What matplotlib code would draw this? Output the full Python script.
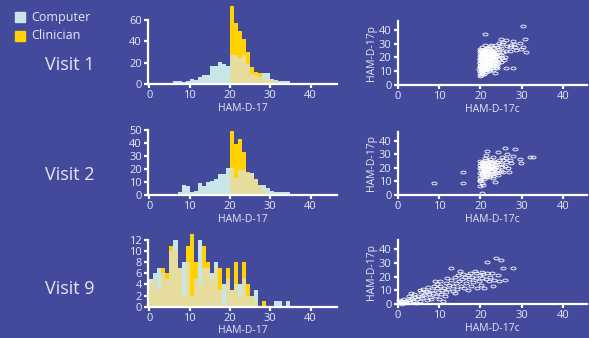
import matplotlib
matplotlib.use("Agg")
import matplotlib.pyplot as plt
import numpy as np
from matplotlib.patches import Rectangle
from matplotlib.path import Path

plt.rcParams['font.family'] = ['Open Sans', 'DejaVu Sans']

# histogram counts per 1-point bin (left edge = index)
v1_computer = [0, 0, 0, 0, 0, 1, 3, 3, 2, 3, 5, 4, 7, 8, 8, 17, 17, 21, 19, 17,
               27, 27, 24, 27, 19, 9, 8, 7, 10, 10, 5, 4, 3, 3, 3, 1, 1, 1, 1, 0,
               1, 0, 0, 1]
v1_clinician = [0, 0, 0, 0, 0, 0, 0, 0, 0, 0, 0, 1, 0, 0, 0, 0, 0, 0, 0, 1,
                73, 57, 50, 42, 30, 16, 11, 10, 5, 4, 5, 2, 1]

v2_computer = [0, 1, 1, 0, 0, 1, 1, 2, 8, 7, 2, 3, 9, 7, 10, 11, 12, 16, 16, 21,
               21, 13, 19, 19, 17, 17, 12, 8, 8, 5, 3, 2, 2, 2, 2, 1, 1, 1, 1, 1]
v2_clinician = [0, 0, 0, 1, 0, 0, 0, 0, 0, 0, 0, 0, 0, 0, 0, 0, 0, 0, 1, 1,
                49, 39, 43, 33, 18, 15, 12, 8, 3, 1, 1]

v9_computer = [5, 6, 7, 6, 5, 10, 12, 7, 8, 8, 2, 5, 12, 7, 7, 6, 8, 3, 4, 5,
               3, 4, 4, 5, 2, 2, 3, 0, 0, 0, 0, 1, 1, 0, 1]
v9_clinician = [4, 5, 3, 7, 6, 11, 10, 7, 2, 11, 13, 8, 4, 11, 8, 5, 7, 7, 0, 7,
                3, 8, 2, 8, 4, 2, 1, 0, 1]

# scatter points (clinician HAM-D-17c, patient HAM-D-17p)
v1_points = [
    (19.8, 6.5), (20.2, 7.2), (20.5, 8.0), (19.9, 8.8), (20.3, 9.5), (20.0, 10.2), (20.6, 10.8),
    (19.7, 11.5), (20.2, 12.1), (20.4, 12.9), (19.9, 13.6), (20.1, 14.3), (20.5, 15.0), (19.8, 15.8),
    (20.3, 16.5), (20.0, 17.2), (20.6, 17.9), (19.9, 18.6), (20.2, 19.3), (20.4, 20.1), (19.8, 20.8),
    (20.1, 21.6), (20.5, 22.3), (19.9, 23.0), (20.3, 23.8), (20.0, 24.6), (20.2, 25.5), (19.9, 26.4),
    (20.3, 27.9), (20.0, 19.0), (20.6, 13.2), (20.4, 9.0), (19.9, 16.1), (20.2, 21.1),
    (20.7, 11.9), (20.5, 14.0), (20.8, 16.0), (20.6, 18.8), (20.7, 21.2), (20.5, 23.1), (20.8, 24.9),
    (20.1, 11.0), (20.0, 13.0), (20.3, 15.4), (20.1, 17.9), (20.3, 22.7), (20.1, 25.0),
    (21.0, 8.2), (21.3, 9.6), (20.9, 10.9), (21.4, 11.7), (21.1, 12.6), (20.8, 13.4), (21.2, 14.2),
    (21.5, 15.1), (21.0, 15.9), (21.3, 16.8), (20.9, 17.5), (21.4, 18.3), (21.1, 19.2), (20.8, 20.0),
    (21.2, 20.9), (21.5, 21.7), (21.0, 22.6), (21.3, 23.4), (20.9, 24.3), (21.4, 25.1), (21.1, 26.0),
    (21.5, 27.2), (21.1, 29.1), (21.1, 36.8), (21.6, 10.9),
    (21.7, 13.0), (21.6, 14.8), (21.8, 16.9), (21.7, 18.9), (21.6, 20.4), (21.8, 22.8), (21.7, 24.6),
    (21.2, 13.9), (21.1, 16.3), (21.2, 18.0), (21.0, 20.4), (21.2, 23.9), (21.0, 25.7),
    (22.0, 10.4), (22.3, 11.8), (21.9, 12.9), (22.4, 13.8), (22.1, 14.7), (21.8, 15.6), (22.2, 16.4),
    (22.5, 17.3), (22.0, 18.1), (22.3, 19.0), (21.9, 19.9), (22.4, 20.7), (22.1, 21.6), (21.8, 22.4),
    (22.2, 23.3), (22.5, 24.1), (22.0, 25.0), (22.3, 26.0), (21.9, 27.1), (22.4, 28.2), (22.6, 29.2),
    (22.7, 14.3), (22.6, 16.0), (22.8, 18.6), (22.7, 20.2), (22.6, 22.0), (22.8, 23.8), (22.2, 17.7),
    (22.1, 20.1), (22.3, 22.9), (22.0, 15.2),
    (23.1, 10.9), (23.5, 9.0), (22.9, 12.5), (23.3, 13.5), (23.0, 14.6), (23.4, 15.7), (22.8, 16.8),
    (23.2, 17.9), (23.5, 19.0), (23.0, 20.1), (23.3, 21.2), (22.9, 22.3), (23.4, 23.4), (23.1, 24.5),
    (22.8, 25.6), (23.2, 26.8), (23.9, 29.1), (23.9, 13.3), (23.6, 18.2),
    (23.7, 15.0), (23.6, 20.9), (23.8, 24.0), (23.2, 19.5), (23.1, 22.8),
    (24.0, 14.0), (24.3, 15.8), (23.9, 17.5), (24.4, 19.2), (24.1, 20.9), (23.8, 22.6), (24.2, 24.3),
    (24.5, 26.0), (24.0, 27.3), (24.4, 30.5), (24.1, 12.2), (24.6, 21.5),
    (25.1, 26.7), (25.1, 33.2), (25.0, 16.5), (25.3, 19.5), (24.9, 22.0), (25.4, 24.0), (25.2, 29.5),
    (25.5, 31.5), (26.3, 32.7), (26.3, 12.1), (26.0, 20.0), (26.2, 25.0), (26.5, 28.5), (25.8, 18.0),
    (27.1, 27.9), (27.9, 32.2), (27.8, 12.1), (27.2, 24.5), (28.7, 25.5), (28.2, 30.0), (29.5, 30.3),
    (30.4, 27.9), (30.8, 33.2), (31.0, 24.2), (30.3, 42.9), (29.8, 26.0), (27.5, 29.0), (28.5, 27.5),
]

v2_points = [
    (8.8, 8.6), (15.7, 8.6), (15.9, 16.7), (20.5, 1.7), (19.9, 11.0), (20.7, 7.4), (23.5, 9.8),
    (19.8, 10.5), (20.2, 12.0), (20.0, 13.4), (20.4, 14.7), (19.9, 16.0), (20.3, 17.3), (20.1, 18.6),
    (19.8, 19.8), (20.4, 21.0), (20.0, 22.2), (20.2, 23.5), (19.9, 24.8), (20.3, 15.3), (20.1, 20.4),
    (20.5, 9.2), (20.0, 6.3),
    (20.7, 13.0), (20.6, 15.9), (20.8, 18.3), (20.6, 20.0), (20.7, 22.6), (20.5, 24.0),
    (21.0, 11.6), (21.3, 12.9), (20.9, 14.2), (21.4, 15.5), (21.1, 16.8), (20.8, 18.0), (21.2, 19.3),
    (21.5, 20.6), (21.0, 21.9), (21.3, 23.2), (20.9, 24.5), (21.4, 25.8), (21.3, 29.5), (21.5, 32.7),
    (21.1, 27.0),
    (21.7, 14.0), (21.6, 17.0), (21.8, 19.8), (21.7, 22.7), (21.6, 24.4), (21.2, 17.8), (21.1, 21.0),
    (22.0, 13.0), (22.3, 14.5), (21.9, 16.0), (22.4, 17.5), (22.1, 19.0), (21.8, 20.5), (22.2, 22.0),
    (22.5, 23.5), (22.0, 25.0), (22.3, 26.5), (21.9, 18.2), (22.4, 21.3),
    (22.7, 15.3), (22.6, 18.8), (22.8, 21.0), (22.7, 24.2), (22.2, 20.2),
    (23.0, 14.2), (23.3, 16.0), (22.9, 17.8), (23.4, 19.6), (23.1, 21.4), (22.8, 23.2), (23.2, 25.0),
    (23.1, 27.8), (23.5, 20.5), (23.0, 12.8),
    (23.7, 17.2), (23.6, 22.0), (23.8, 24.0), (23.2, 18.8),
    (24.0, 16.5), (24.3, 18.5), (23.9, 20.5), (24.4, 22.5), (24.1, 24.5), (24.3, 31.9), (24.5, 26.0),
    (24.2, 14.8),
    (25.0, 18.0), (25.5, 17.2), (25.3, 20.5), (24.9, 23.0), (25.4, 25.5), (25.2, 28.0),
    (25.9, 34.4), (26.3, 24.6), (26.0, 21.0), (26.2, 27.5), (26.5, 30.0),
    (27.0, 16.7), (27.5, 23.3), (27.2, 26.0), (28.3, 33.7), (28.0, 29.0), (29.5, 26.3), (29.9, 23.3),
    (32.0, 27.8), (32.8, 27.8), (26.8, 20.0),
]

v9_points = [
    (0.2, 0.5), (0.5, 1.5), (1.0, 0.3), (1.2, 2.5), (0.3, 3.2), (1.8, 1.2), (2.2, 0.6), (2.5, 3.0),
    (3.0, 1.8), (3.3, 4.5), (2.8, 6.0), (1.5, 4.0), (3.8, 2.5), (4.2, 5.2), (4.6, 3.4), (4.0, 7.5),
    (5.0, 6.0), (5.3, 2.5), (5.6, 8.5), (5.9, 4.2), (6.2, 11.0), (6.4, 6.8), (6.8, 9.3), (7.0, 3.0),
    (7.3, 12.3), (7.6, 7.0), (7.8, 5.0), (8.2, 10.0), (8.5, 8.0), (8.8, 13.0), (9.0, 16.7), (9.2, 6.0),
    (9.5, 11.5), (9.8, 9.0), (10.0, 4.0), (10.2, 16.7), (10.3, 13.0), (10.5, 7.5), (10.8, 10.5),
    (11.0, 2.5), (11.3, 12.0), (11.6, 15.0), (11.8, 8.5), (12.2, 11.0), (12.5, 14.0), (12.8, 26.0),
    (13.0, 17.5), (13.3, 9.5), (13.5, 13.0), (13.8, 19.5), (14.0, 15.5), (14.3, 11.0), (14.6, 21.0),
    (14.9, 16.5), (15.2, 13.5), (15.5, 18.0), (15.8, 22.0), (16.0, 11.5), (16.3, 19.5), (16.6, 15.0),
    (16.9, 21.5), (17.2, 18.0), (17.5, 22.9), (17.8, 13.5), (18.0, 20.0), (18.3, 16.0), (18.6, 24.0),
    (18.9, 19.0), (19.2, 11.5), (19.6, 17.0), (19.9, 21.0), (20.2, 14.0), (20.4, 23.5), (20.7, 21.6),
    (21.0, 12.0), (21.3, 18.0), (21.7, 31.0), (21.6, 22.5), (22.0, 16.5), (22.4, 20.0), (22.8, 23.0),
    (23.1, 13.0), (23.4, 17.5), (23.8, 33.9), (24.2, 21.5), (24.5, 17.0), (25.1, 32.2), (25.5, 26.0),
    (25.9, 17.2), (27.9, 26.0),
    (0.8, 2.0), (2.0, 2.2), (3.5, 3.5), (4.5, 1.0), (6.0, 5.5), (5.5, 10.0), (8.0, 3.5), (9.5, 14.5),
    (11.5, 6.0), (12.0, 19.0), (7.2, 8.5), (3.2, 8.0), (13.9, 8.0), (15.0, 24.0), (17.0, 10.0),
    (19.0, 23.0), (20.5, 19.0),
]

visit_labels = ["Visit 1", "Visit 2", "Visit 9"]
hist_yticks = [[0, 20, 40, 60], [0, 10, 20, 30, 40, 50], [0, 2, 4, 6, 8, 10, 12]]
hist_ylims = [60, 50, 12]
scatter_ticks = [0, 10, 20, 30, 40]

BG = "#434a9c"
TXT = "#e6e6f2"
CYAN = "#c8e6e8"
YELLOW = "#ffd200"
MIX = "#e6dc9e"

W, H = 589, 338
fig = plt.figure(figsize=(W / 100, H / 100), dpi=100, facecolor=BG)


def px_axes(left, top, right, bottom):
    return fig.add_axes([left / W, 1 - bottom / H, (right - left) / W, (bottom - top) / H])


def style(ax):
    ax.set_facecolor("none")
    for s in ["top", "right"]:
        ax.spines[s].set_visible(False)
    for s in ["left", "bottom"]:
        ax.spines[s].set_color("white")
        ax.spines[s].set_linewidth(1.6)
    ax.tick_params(colors="white", labelcolor=TXT, labelsize=8, length=3, width=1.6, pad=1.5)


# ellipse marker
t = np.linspace(0, 2 * np.pi, 40)
ellipse = Path(np.column_stack([np.cos(t), 0.55 * np.sin(t)]), closed=True)

hist_rows = [(20, 84), (130, 195), (240, 306.7)]
scatter_rows = [(20.7, 85, 46.7), (131.7, 195, 46.6), (239.7, 304, 47)]
hists = [(v1_computer, v1_clinician), (v2_computer, v2_clinician), (v9_computer, v9_clinician)]
points = [v1_points, v2_points, v9_points]

for i in range(3):
    top, bottom = hist_rows[i]
    ax = px_axes(148.1, top, 336.7, bottom)
    style(ax)
    comp, clin = hists[i]
    n = max(len(comp), len(clin))
    comp = np.array(comp + [0] * (n - len(comp)))
    clin = np.array(clin + [0] * (n - len(clin)))
    edges = np.arange(n)
    ax.bar(edges, comp, width=1, align="edge", color=CYAN, clip_on=False, zorder=1)
    ax.bar(edges, clin, width=1, align="edge", color=YELLOW, clip_on=False, zorder=1)
    ax.bar(edges, np.minimum(comp, clin), width=1, align="edge", color=MIX,
           clip_on=False, zorder=2)
    ax.set_xlim(-0.3, 46.5)
    ax.set_ylim(0, hist_ylims[i])
    ax.set_xticks([0, 10, 20, 30, 40])
    ax.set_yticks(hist_yticks[i])
    ax.set_xlabel("HAM-D-17", color=TXT, fontsize=7.5, labelpad=1)

    fig.text(70 / W, 1 - [65.5, 174.7, 289][i] / H, visit_labels[i], color=TXT,
             fontsize=13, ha="center", va="center")

    top, bottom, ymax = scatter_rows[i]
    ax = px_axes(397.7, top, 587, bottom)
    style(ax)
    c = [p[0] for p in points[i]]
    p = [p[1] for p in points[i]]
    ax.plot(c, p, linestyle="none", marker=ellipse, markersize=3.7,
            markerfacecolor="none", markeredgecolor="white", markeredgewidth=0.6,
            clip_on=False)
    ax.set_xlim(0, 45.8)
    ax.set_ylim(0, ymax)
    ax.set_xticks(scatter_ticks)
    ax.set_yticks(scatter_ticks)
    ax.set_xlabel("HAM-D-17c", color=TXT, fontsize=7.5, labelpad=1)
    ax.set_ylabel("HAM-D-17p", color=TXT, fontsize=7.5, labelpad=1)

# legend
for j, (lab, col) in enumerate([("Computer", CYAN), ("Clinician", YELLOW)]):
    y0 = [12.3, 31][j]
    fig.add_artist(Rectangle((15 / W, 1 - (y0 + 9.5) / H), 9.5 / W, 9.5 / H,
                             transform=fig.transFigure, color=col))
    fig.text(31.5 / W, 1 - (y0 + 4.8) / H, lab, color=TXT, fontsize=9, va="center")

fig.savefig("out.png", dpi=100, facecolor=BG)
